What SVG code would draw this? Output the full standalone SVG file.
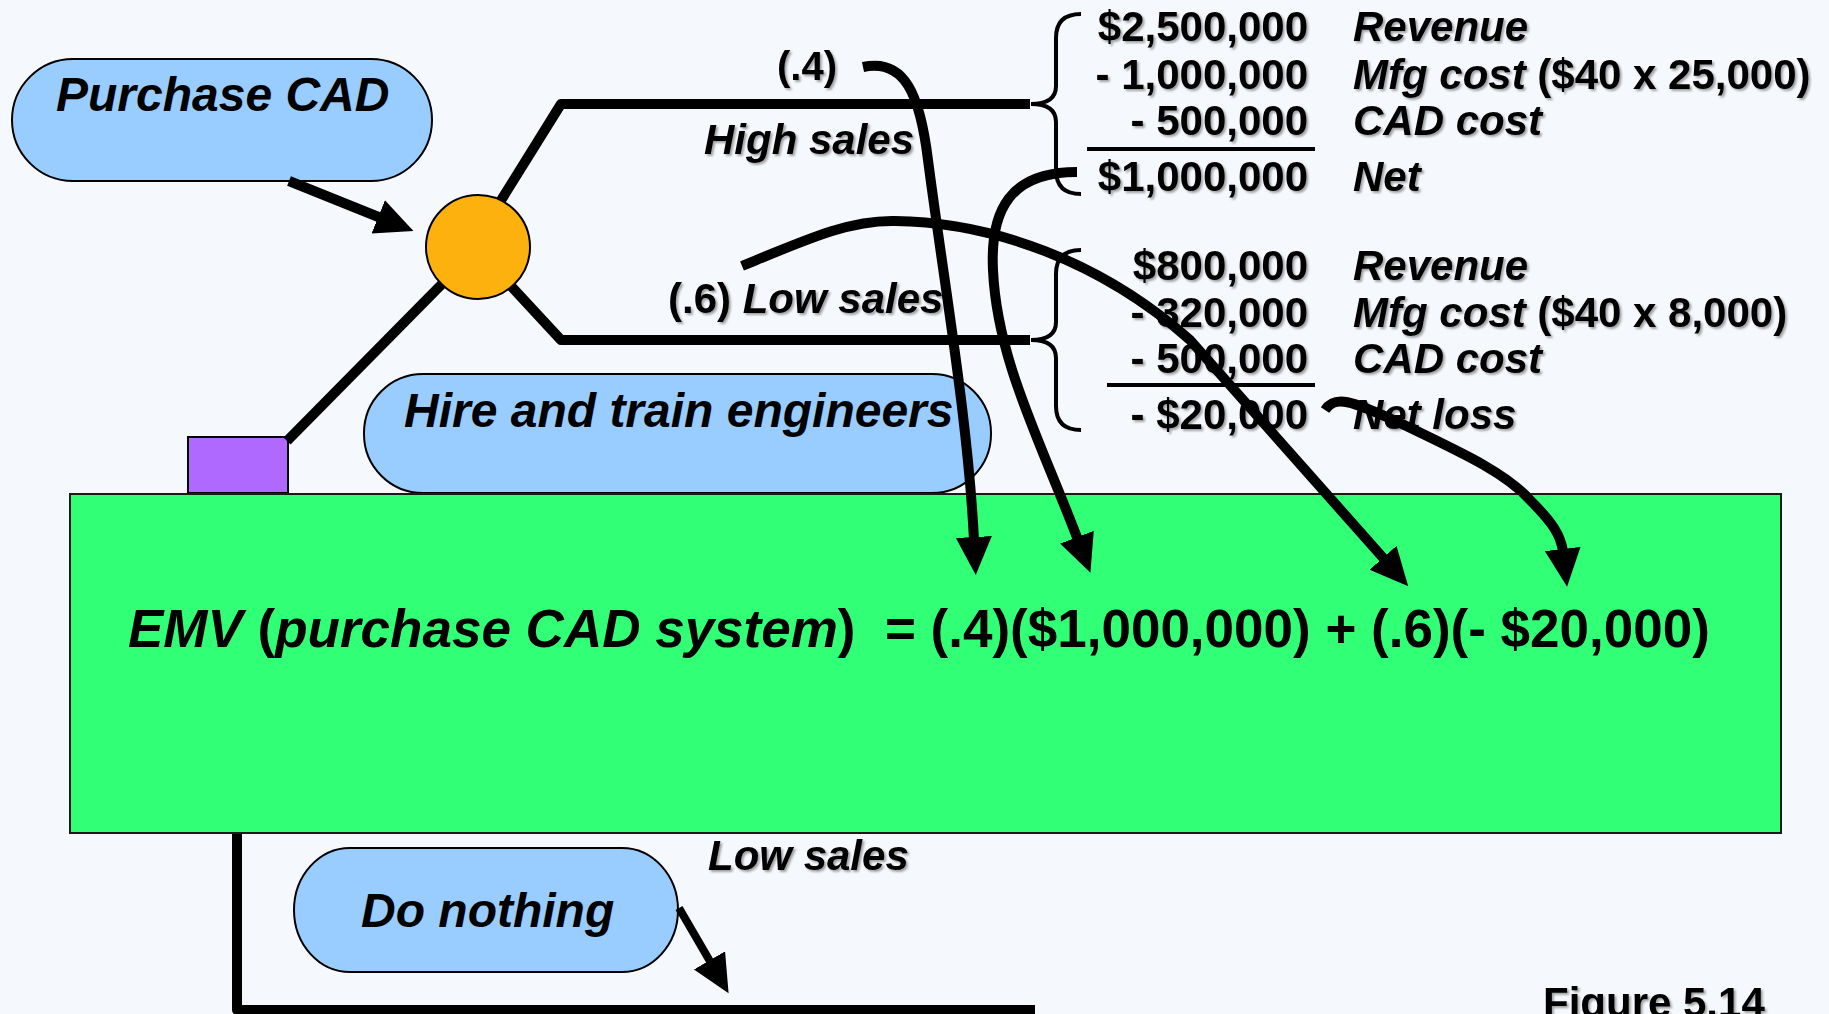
<svg xmlns="http://www.w3.org/2000/svg" width="1829" height="1014" viewBox="0 0 1829 1014">
<defs>
<style>
.bg{fill:#F5F8FD}
.pill{fill:#99CCFF;stroke:#000;stroke-width:2}
.t{font-family:"Liberation Sans",Arial,sans-serif;font-weight:bold;fill:#000}
.i{font-style:italic}
.n{font-style:normal}
.sh{filter:url(#shadow)}
.line{fill:none;stroke:#000;stroke-width:10;stroke-linejoin:round}
.arr{fill:none;stroke:#000;stroke-width:10;marker-end:url(#ah)}
.brace{fill:none;stroke:#000;stroke-width:4}
.rule{stroke:#000;stroke-width:4}
</style>
<filter id="shadow" x="-5%" y="-20%" width="110%" height="150%">
<feDropShadow dx="2" dy="2" stdDeviation="1" flood-color="#000" flood-opacity="0.35"/>
</filter>
<marker id="ah" markerUnits="userSpaceOnUse" markerWidth="42" markerHeight="40" refX="3" refY="18" orient="auto">
<path d="M0,0 L38,18 L0,36 Z" fill="#000"/>
</marker>
</defs>
<rect class="bg" x="0" y="0" width="1829" height="1014"/>

<g id="node-purchase-cad">
<rect class="pill" x="12" y="59" width="420" height="122" rx="61" ry="61"/>
<text class="t i" x="56" y="111" font-size="48">Purchase CAD</text>
</g>

<g id="node-hire-train">
<rect class="pill" x="364" y="374" width="627" height="119" rx="59" ry="59"/>
<text class="t i" x="404" y="427" font-size="48">Hire and train engineers</text>
</g>

<g id="node-square">
<rect x="188" y="437" width="100" height="56" fill="#AF69FE" stroke="#000" stroke-width="2"/>
</g>

<g id="tree-lines">
<path class="line" d="M500 202 L561 104 L1030 104"/>
<path class="line" d="M510 285 L561 340 L1030 340"/>
<path class="line" d="M443 283 L287 441"/>
<path class="line" d="M237 828 L237 1010 L1035 1010"/>
</g>

<g id="node-chance">
<circle cx="478" cy="247" r="52" fill="#FCB10E" stroke="#000" stroke-width="2"/>
</g>

<g id="node-emv">
<rect x="70" y="494" width="1711" height="339" fill="#31FF76" stroke="#1a1a1a" stroke-width="2"/>
<text class="t" x="128" y="647" font-size="53"><tspan class="i">EMV </tspan>(<tspan class="i">purchase CAD system</tspan>)&#160; = (.4)($1,000,000) + (.6)(- $20,000)</text>
</g>

<g id="node-do-nothing">
<rect class="pill" x="294" y="848" width="384" height="124" rx="56" ry="62"/>
<text class="t i" x="361" y="927" font-size="48">Do nothing</text>
</g>

<g id="labels">
<text class="t sh" x="777" y="80" font-size="40">(.4)</text>
<text class="t i sh" x="704" y="154" font-size="42">High sales</text>
<text class="t sh" x="668" y="313" font-size="42">(.6) <tspan class="i">Low sales</tspan></text>
<text class="t i sh" x="708" y="870" font-size="42">Low sales</text>
<text class="t sh" x="1543" y="1017" font-size="42">Figure 5.14</text>
</g>

<g id="node-high-table">
<path class="brace" d="M1081 14 Q1056 14 1056 38 L1056 86 Q1056 104 1031 104 Q1056 104 1056 122 L1056 170 Q1056 194 1081 194"/>
<g class="t sh" font-size="42" text-anchor="end">
<text x="1308" y="41">$2,500,000</text>
<text x="1308" y="89">- 1,000,000</text>
<text x="1308" y="135">- 500,000</text>
<text x="1308" y="191">$1,000,000</text>
</g>
<line class="rule" x1="1087" y1="149" x2="1315" y2="149"/>
<g class="t sh" font-size="42">
<text class="i" x="1353" y="41">Revenue</text>
<text x="1353" y="89"><tspan class="i">Mfg cost</tspan> ($40 x 25,000)</text>
<text class="i" x="1353" y="135">CAD cost</text>
<text class="i" x="1353" y="191">Net</text>
</g>
</g>

<g id="node-low-table">
<path class="brace" d="M1081 250 Q1056 250 1056 274 L1056 322 Q1056 340 1031 340 Q1056 340 1056 358 L1056 406 Q1056 430 1081 430"/>
<g class="t sh" font-size="42" text-anchor="end">
<text x="1308" y="280">$800,000</text>
<text x="1308" y="327">- 320,000</text>
<text x="1308" y="373">- 500,000</text>
<text x="1308" y="429">- $20,000</text>
</g>
<line class="rule" x1="1107" y1="385" x2="1315" y2="385"/>
<g class="t sh" font-size="42">
<text class="i" x="1353" y="280">Revenue</text>
<text x="1353" y="327"><tspan class="i">Mfg cost</tspan> ($40 x 8,000)</text>
<text class="i" x="1353" y="373">CAD cost</text>
<text class="i" x="1353" y="429">Net loss</text>
</g>
</g>

<g id="connectors">
<path class="arr" d="M289 181 L381 218"/>
<path class="arr" style="stroke-width:8" d="M679 908 L711 963"/>
<path class="arr" d="M863 67 C905 58 920 95 928 160 C945 290 968 420 974 540"/>
<path class="arr" d="M1077 172 C1010 172 990 210 993 270 C997 360 1040 440 1078 540"/>
<path class="arr" d="M742 266 C810 238 850 220 895 221 C990 222 1100 260 1190 340 L1385 560"/>
<path class="arr" d="M1325 410 C1335 395 1350 400 1400 423 C1460 452 1505 472 1530 500 C1552 522 1561 535 1563 552"/>
</g>
</svg>
